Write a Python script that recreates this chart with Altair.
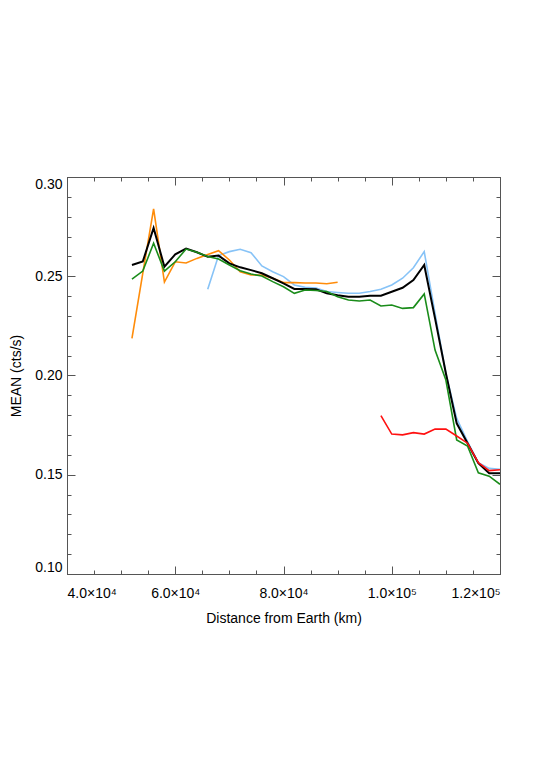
import altair as alt
import pandas as pd

# ---- data ----
black_km = list(range(52000, 120001, 2000))
black_val = [0.2557, 0.2574, 0.2743, 0.2548, 0.2610, 0.2639, 0.2621, 0.2598, 0.2604, 0.2565,
             0.2545, 0.2531, 0.2515, 0.2490, 0.2464, 0.2436, 0.2436, 0.2434, 0.2414, 0.2404,
             0.2397, 0.2397, 0.2402, 0.2402, 0.2422, 0.2442, 0.2481, 0.2557, 0.2288, 0.2011,
             0.1759, 0.1659, 0.1558, 0.1508, 0.1508]

green_km = list(range(52000, 120001, 2000))
green_val = [0.2486, 0.2526, 0.2666, 0.2526, 0.2573, 0.2637, 0.2621, 0.2599, 0.2587, 0.2557,
             0.2528, 0.2511, 0.2501, 0.2473, 0.2447, 0.2414, 0.2431, 0.2428, 0.2423, 0.2397,
             0.2380, 0.2375, 0.2380, 0.2350, 0.2355, 0.2338, 0.2342, 0.2411, 0.2128, 0.1977,
             0.1675, 0.1645, 0.1510, 0.1493, 0.1452]

blue_km = list(range(66000, 120001, 2000))
blue_val = [0.2434, 0.2604, 0.2624, 0.2636, 0.2619, 0.2552, 0.2523, 0.2498, 0.2456, 0.2444,
            0.2440, 0.2423, 0.2418, 0.2414, 0.2414, 0.2423, 0.2434, 0.2456, 0.2490, 0.2543,
            0.2624, 0.2313, 0.2011, 0.1784, 0.1667, 0.1561, 0.1532, 0.1527]

orange_km = list(range(52000, 90001, 2000))
orange_val = [0.2187, 0.2515, 0.2840, 0.2471, 0.2573, 0.2567, 0.2590, 0.2610, 0.2629, 0.2582,
              0.2523, 0.2506, 0.2506, 0.2490, 0.2468, 0.2468, 0.2466, 0.2466, 0.2462, 0.2470]

red_km = list(range(98000, 120001, 2000))
red_val = [0.1798, 0.1705, 0.1701, 0.1712, 0.1705, 0.1730, 0.1730, 0.1695, 0.1659, 0.1561,
           0.1521, 0.1525]

x_major = [40000, 60000, 80000, 100000, 120000]
x_major_labels = ["4.0×10⁴", "6.0×10⁴", "8.0×10⁴", "1.0×10⁵", "1.2×10⁵"]
x_minor = list(range(40000, 120001, 5000))
y_major = [0.10, 0.15, 0.20, 0.25, 0.30]
y_minor = [round(0.10 + 0.01 * i, 2) for i in range(21)]

series = [
    ("blue", blue_km, blue_val, "#87c3f7", 1.6),
    ("orange", orange_km, orange_val, "#ff8c0a", 1.6),
    ("black", black_km, black_val, "#000000", 2.0),
    ("green", green_km, green_val, "#1a8c1a", 1.6),
    ("red", red_km, red_val, "#ff1010", 1.6),
]

rows = []
for name, kms, vals, _, _ in series:
    for k, v in zip(kms, vals):
        rows.append({"km": k, "val": v, "series": name})
df = pd.DataFrame(rows)

W, H = 433, 397
xs = alt.Scale(domain=[40000, 120000], nice=False, zero=False)
ys = alt.Scale(domain=[0.10, 0.30], nice=False, zero=False)
TICK = "#555555"
FONT = "Liberation Sans"

label_expr = " : ".join(
    f"datum.value == {v} ? '{l}'" for v, l in zip(x_major, x_major_labels)
) + " : ''"

base = alt.Chart(df)

label_layer = base.mark_line(opacity=0).encode(
    x=alt.X("km:Q", scale=xs, axis=alt.Axis(
        orient="bottom", values=x_major, labelExpr=label_expr, ticks=False, tickSize=0,
        domain=False, grid=False, labelPadding=12, labelFont=FONT, labelFontSize=14,
        labelColor="#000000", title="Distance from Earth (km)", titleFont=FONT,
        titleFontSize=14, titleFontWeight="normal", titleColor="#000000", titlePadding=11)),
    y=alt.Y("val:Q", scale=ys, axis=alt.Axis(
        orient="left", values=y_major, format=".2f", ticks=False, tickSize=0, domain=False,
        grid=False, labelPadding=5, labelFlush=True, labelFont=FONT, labelFontSize=14,
        labelColor="#000000", title="MEAN (cts/s)", titleFont=FONT, titleFontSize=14,
        titleFontWeight="normal", titleColor="#000000", titlePadding=11)),
    detail="series:N",
)


def tick_layer(xorient, yorient, xvals, yvals, size):
    return base.mark_line(opacity=0).encode(
        x=alt.X("km:Q", scale=xs, axis=alt.Axis(
            orient=xorient, values=xvals, labels=False, domain=False, grid=False,
            tickSize=size, offset=-size, tickColor=TICK, tickWidth=1, title=None)),
        y=alt.Y("val:Q", scale=ys, axis=alt.Axis(
            orient=yorient, values=yvals, labels=False, domain=False, grid=False,
            tickSize=size, offset=-size, tickColor=TICK, tickWidth=1, title=None)),
        detail="series:N",
    )


ticks = [
    tick_layer("bottom", "left", x_major, y_major, 8),
    tick_layer("bottom", "left", x_minor, y_minor, 4),
    tick_layer("top", "right", x_major, y_major, 8),
    tick_layer("top", "right", x_minor, y_minor, 4),
]

lines = []
for name, _, _, color, sw in series:
    lines.append(
        base.transform_filter(alt.datum.series == name)
        .mark_line(color=color, strokeWidth=sw, clip=True)
        .encode(
            x=alt.X("km:Q", scale=xs, axis=None),
            y=alt.Y("val:Q", scale=ys, axis=None),
            order="km:Q",
        )
    )

chart = (
    alt.layer(label_layer, *ticks, *lines)
    .resolve_axis(x="independent", y="independent")
    .properties(
        width=W, height=H,
        autosize=alt.AutoSizeParams(type="none"),
        padding={"left": 59, "top": 169, "right": 32, "bottom": 190},
    )
    .configure_view(stroke="#555555", strokeWidth=1)
)

chart.save("out.html", embed_options={"renderer": "svg", "actions": False})
